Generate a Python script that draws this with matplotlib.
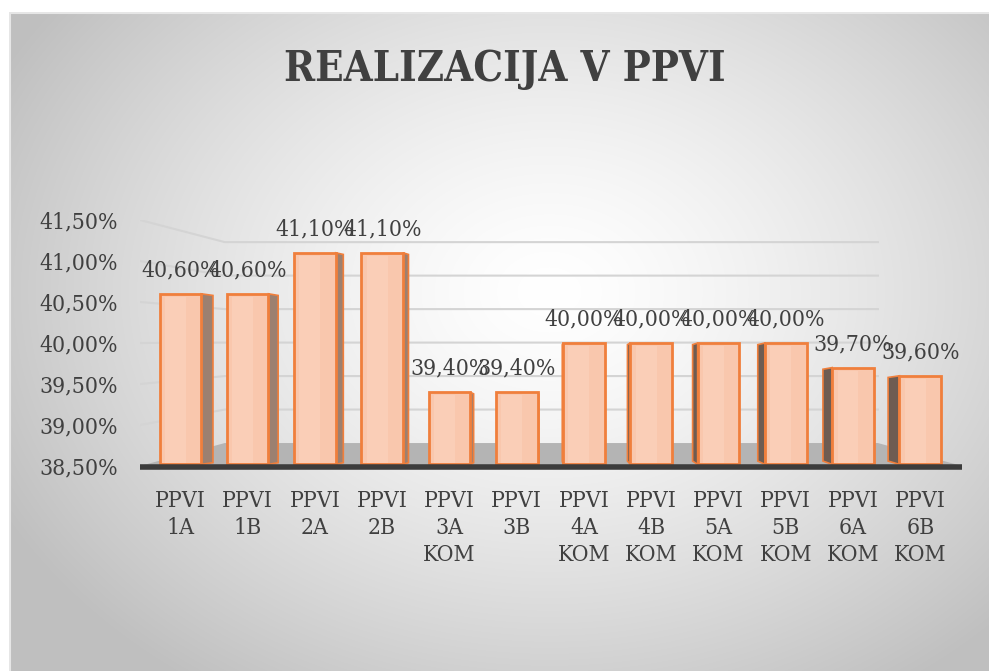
import numpy as np
import matplotlib
matplotlib.use("Agg")
import matplotlib.pyplot as plt
from matplotlib.patches import Polygon, Rectangle

# data
categories = ["PPVI\n1A", "PPVI\n1B", "PPVI\n2A", "PPVI\n2B", "PPVI\n3A\nKOM", "PPVI\n3B",
              "PPVI\n4A\nKOM", "PPVI\n4B\nKOM", "PPVI\n5A\nKOM", "PPVI\n5B\nKOM",
              "PPVI\n6A\nKOM", "PPVI\n6B\nKOM"]
values = [40.6, 40.6, 41.1, 41.1, 39.4, 39.4, 40.0, 40.0, 40.0, 40.0, 39.7, 39.6]
yticks = [38.5, 39.0, 39.5, 40.0, 40.5, 41.0, 41.5]
title = "REALIZACIJA V PPVI"

W, H = 989, 671
TXT = "#404040"
FONT = dict(family="DejaVu Serif", stretch="condensed")

fig = plt.figure(figsize=(W / 100, H / 100), dpi=100)
fig.patch.set_facecolor("white")

# background with radial gradient
bg = fig.add_axes([9 / W, 0, 1 - 9 / W, 1 - 12 / H])
bg.set_axis_off()
yy, xx = np.mgrid[0:660, 0:980]
r = np.sqrt(((xx - 540) / 620.0) ** 2 + ((yy - 280) / 480.0) ** 2)
shade = 1.0 - 0.25 * np.clip(r, 0, 1) ** 1.4
bg.imshow(np.dstack([shade] * 3), aspect="auto", extent=[0, 1, 0, 1])
bg.plot([0, 1], [0.999, 0.999], color="#e6e6e6", lw=1.5, transform=bg.transAxes)
bg.plot([0.001, 0.001], [0, 1], color="#e6e6e6", lw=1.5, transform=bg.transAxes)

fig.text(0.51, 0.897, title, ha="center", va="center", fontsize=30,
         fontweight="bold", color=TXT, **FONT)

ax = fig.add_axes([140 / W, (H - 466) / H, 822 / W, 246 / H])
ax.patch.set_alpha(0)
ax.set_xlim(-0.6, 11.62)
ax.set_ylim(38.5, 41.5)
for s in ax.spines.values():
    s.set_visible(False)

x = np.arange(len(categories))

# walls: back grid lines with slanted side wall
xb0, xb1 = 0.66, 10.37
def back(v):
    return 38.78 + (v - 38.5) * 0.8167
for v in yticks[1:]:
    ax.plot([-0.6, xb0, xb1], [v, back(v), back(v)], color="#d4d4d4", lw=1.5, zorder=1)

# floor
floor = Polygon([(-0.6, 38.5), (xb0, back(38.5)), (xb1, back(38.5)), (11.62, 38.5)],
                closed=True, facecolor="#b4b4b4", edgecolor="none", zorder=2)
ax.add_patch(floor)
ax.plot([-0.6, 11.62], [38.49, 38.49], color="#3c3c3c", lw=4, zorder=6,
        solid_capstyle="butt", clip_on=False)

bw = 0.62
for i, v in enumerate(values):
    left = i - bw / 2
    right = i + bw / 2
    side = (5.6 - i) * 2.1 / 67.3
    if side > 0:
        pts = [(right, 38.52), (right + side, 38.54), (right + side, v - 0.02), (right, v)]
        sc = "#9c8070"
    else:
        pts = [(left, 38.52), (left + side, 38.56), (left + side, v - 0.02), (left, v)]
        sc = "#6e5c52"
    if abs(side) > 0.01:
        ax.add_patch(Polygon(pts, closed=True, facecolor=sc, edgecolor="#f07f3c",
                             lw=1.2, zorder=4))
    ax.add_patch(Rectangle((left, 38.52), bw, v - 38.52, facecolor="#f9c7ad",
                           edgecolor="#f07f3c", lw=2, zorder=5))
    ax.add_patch(Rectangle((left + 0.08, 38.54), bw * 0.5, v - 38.58,
                           facecolor="#fbd3bf", edgecolor="none", alpha=0.6, zorder=5))
    ax.annotate(("%.2f%%" % v).replace(".", ","), (i, v), xytext=(0, 17),
                textcoords="offset points", ha="center", va="center",
                fontsize=16.5, color=TXT, zorder=7, **FONT)

ax.set_xticks(x)
ax.set_xticklabels(categories, fontsize=16.5, color=TXT, linespacing=1.3, va="top", **FONT)
ax.set_yticks(yticks)
ax.set_yticklabels([("%.2f%%" % t).replace(".", ",") for t in yticks],
                   fontsize=16.5, color=TXT, **FONT)
ax.tick_params(axis="both", length=0)
ax.tick_params(axis="y", pad=16)
ax.tick_params(axis="x", pad=17)

fig.savefig("out.png", dpi=100)
